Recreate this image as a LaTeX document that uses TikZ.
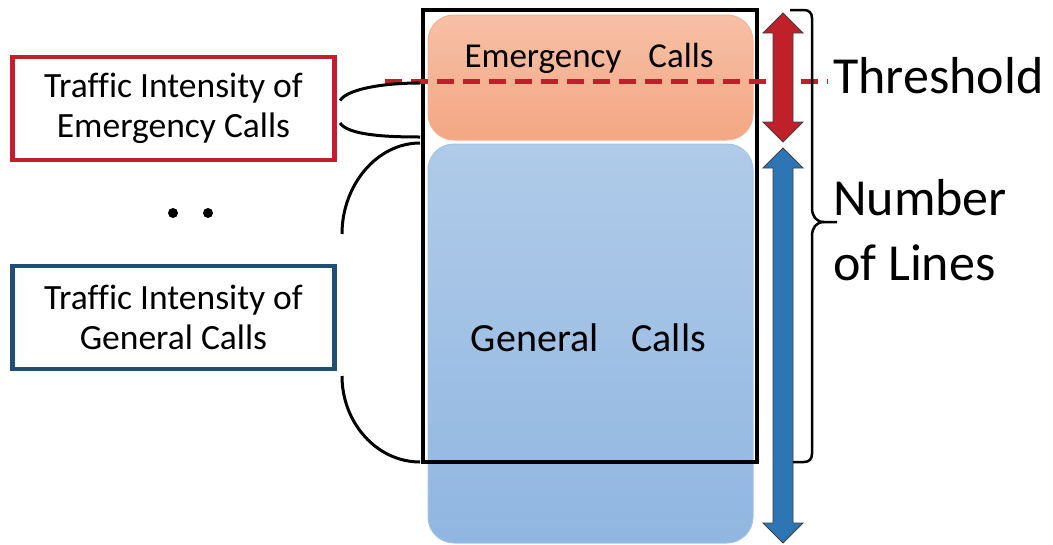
\documentclass[tikz,border=0pt]{standalone}
\usepackage{fontspec}
\setmainfont{Carlito}[Ligatures=NoCommon]
\usetikzlibrary{calc}
\definecolor{emred}{HTML}{C0202A}
\definecolor{genblue}{HTML}{1F4E79}
\definecolor{arrblue}{HTML}{2E75B6}
\definecolor{orgtop}{HTML}{F6C0A6}
\definecolor{orgbot}{HTML}{F4A783}
\definecolor{orgedge}{HTML}{F3B293}
\definecolor{blutop}{HTML}{B0CBE9}
\definecolor{blubot}{HTML}{90B6E1}
\definecolor{bluedge}{HTML}{A6C3E5}
\begin{document}
\begin{tikzpicture}[x=1pt,y=-1pt,
  intensity/.style={draw, line width=4.5pt, fill=white, outer sep=0pt,
    minimum width=322pt, minimum height=103pt, inner sep=0pt, align=center,
    font=\fontsize{35.5}{39.5}\selectfont},
  callblock/.style={line width=1pt, rounded corners=26pt, outer sep=0pt,
    minimum width=325pt, inner sep=0pt},
  link/.style={line width=3pt, black},
  dblarrow/.style={draw=black!75, line width=0.8pt},
  brace/.style={line width=2.5pt, black},
  dot/.style={circle, fill=black, inner sep=0pt, minimum size=10pt}]
\useasboundingbox (0,0) rectangle (1053,544);

% call blocks
\node[callblock, top color=blutop, bottom color=blubot, draw=bluedge,
  minimum height=399pt] (genblock) at (590.5,343.5) {};
\node[callblock, top color=orgtop, bottom color=orgbot, draw=orgedge,
  minimum height=125pt] (emblock) at (590.5,77.5) {};
\node[anchor=base, font=\fontsize{35}{40}\selectfont] (emlabel) at (589,67)
  {Emergency\hspace{27pt}Calls};
\node[anchor=base, font=\fontsize{40}{46}\selectfont] (genlabel) at (588.5,351)
  {General\hspace{33pt}Calls};

% frame of the available lines
\node[draw, line width=4pt, outer sep=0pt, minimum width=334pt,
  minimum height=452pt, inner sep=0pt] (frame) at (590,236) {};

% threshold
\coordinate (thL) at (385,81);
\coordinate (thR) at (828,81);
\draw[emred, line width=5pt, dash pattern=on 17pt off 9pt] (thL) -- (thR);
\node[anchor=base west, font=\fontsize{52}{60}\selectfont, inner sep=0pt]
  (thlabel) at (833,93) {Threshold};

% double arrows
\draw[dblarrow, fill=emred] (783,13) -- (803,33) -- (793,33) -- (793,122)
  -- (803,122) -- (783,142) -- (763,122) -- (773,122) -- (773,33)
  -- (763,33) -- cycle;
\draw[dblarrow, fill=arrblue] (783,148) -- (803,168) -- (793,168) -- (793,523)
  -- (803,523) -- (783,543) -- (763,523) -- (773,523) -- (773,168)
  -- (763,168) -- cycle;

% brace for the number of lines
\coordinate (bTop) at (790,10);
\coordinate (bTip) at (837,222);
\coordinate (bBot) at (793,462);
\draw[brace] (bTop) -- (804,10) .. controls (809,10) and (812,13) .. (812,18)
  -- (812,208) .. controls (812,216) and (816,222) .. (824,222) -- (bTip);
\draw[brace] (824,222) .. controls (816,222) and (812,228) .. (812,236)
  -- (812,454) .. controls (812,459) and (809,462) .. (804,462) -- (bBot);
\node[anchor=base west, font=\fontsize{52}{60}\selectfont, inner sep=0pt]
  (num1) at (833,215) {Number};
\node[anchor=base west, font=\fontsize{52}{60}\selectfont, inner sep=0pt]
  (num2) at (833,280) {of Lines};

% traffic intensity boxes
\node[intensity, draw=emred] (em) at (173.5,108.5)
  {Traffic Intensity of\\Emergency Calls};
\node[intensity, draw=genblue] (gen) at (173.5,317.5)
  {Traffic Intensity of\\General Calls};
\node[dot] (d1) at (173,213) {};
\node[dot] (d2) at (208,213) {};

% links from the boxes to the frame
\draw[link] ($(em.east)+(5.5,-8)$) .. controls +(8,-12) and +(-35,0)
  .. ($(frame.north west)+(-3,73)$);
\draw[link] ($(em.east)+(5.5,14.5)$) .. controls +(8,12) and +(-35,0)
  .. ($(frame.north west)+(-3,127)$);
\draw[link] ($(frame.north west)+(-3,133)$) .. controls +(-43,0) and +(0,-49)
  .. ($(gen.north east)+(7.5,-32)$);
\draw[link] ($(gen.south east)+(7.5,7)$) .. controls +(0,47) and +(-43,0)
  .. ($(frame.south west)+(-3,0)$);
\end{tikzpicture}
\end{document}
